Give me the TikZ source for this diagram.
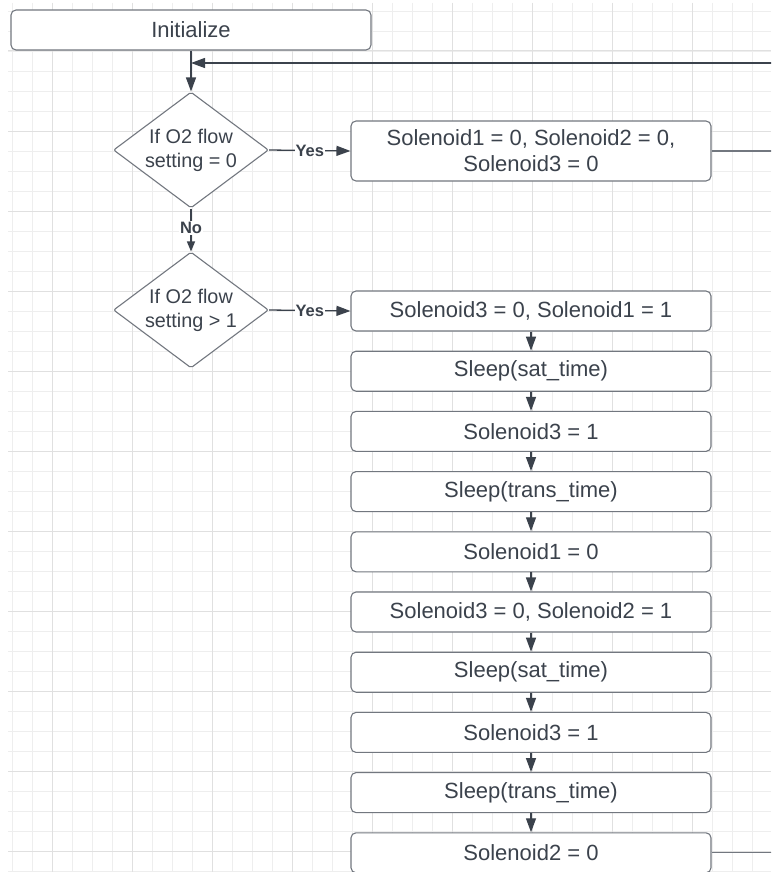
\documentclass[tikz,border=0pt]{standalone}
\usepackage{fontspec}
\setmainfont{Liberation Sans}
\usetikzlibrary{arrows.meta,shapes.geometric}

\definecolor{gridminor}{HTML}{EEEEEE}
\definecolor{gridmajor}{HTML}{E0E0E0}
\definecolor{edge}{HTML}{72777F}
\definecolor{ink}{HTML}{3B424C}

\begin{document}
\begin{tikzpicture}[x=1pt,y=-1pt,
  stepbox/.style={draw=edge, line width=1.1pt, rounded corners=5pt, fill=white,
    minimum width=360pt, minimum height=40pt, inner sep=0pt, text=ink,
    font=\fontsize{22}{26}\selectfont, align=center},
  test/.style={diamond, aspect=1.34, draw=edge, line width=1.1pt, rounded corners=2pt,
    fill=white, minimum width=155pt, minimum height=116pt, inner sep=0pt, text=ink,
    font=\fontsize{19.8}{24}\selectfont, align=center},
  flow/.style={draw=ink, line width=1.3pt, -{Triangle[length=14pt,width=10pt]}},
  shortflow/.style={draw=ink, line width=1.3pt, -{Triangle[length=10pt,width=8pt]}},
  plainline/.style={draw=edge, line width=1.3pt},
  lbl/.style={fill=white, inner sep=1pt, text=ink,
    font=\fontsize{16.5}{18}\selectfont\bfseries},
]
\useasboundingbox (0,0) rectangle (771,872);
\clip (0,0) rectangle (771,872);
\fill[white] (0,0) rectangle (771,872);

% background grid
\foreach \gx in {12,32,...,752} \draw[gridminor, line width=0.9pt] (\gx,3) -- (\gx,872);
\foreach \gy in {11,31,...,871} \draw[gridminor, line width=0.9pt] (8,\gy) -- (771,\gy);
\foreach \gx in {52,132,...,692} \draw[gridmajor, line width=1pt] (\gx,3) -- (\gx,872);
\foreach \gy in {51,131,...,851} \draw[gridmajor, line width=1pt] (8,\gy) -- (771,\gy);

% nodes
\node[stepbox] (init) at (191,30) {Initialize};
\node[test] (d1) at (191,150) {If O2 flow\\setting = 0};
\node[stepbox, minimum height=60pt] (off) at (531,151) {Solenoid1 = 0, Solenoid2 = 0,\\Solenoid3 = 0};
\node[test] (d2) at (191,310) {If O2 flow\\setting > 1};

\node[stepbox] (s1) at (531,311.0) {Solenoid3 = 0, Solenoid1 = 1};
\node[stepbox] (s2) at (531,371.2) {Sleep(sat\_time)};
\node[stepbox] (s3) at (531,431.4) {Solenoid3 = 1};
\node[stepbox] (s4) at (531,491.6) {Sleep(trans\_time)};
\node[stepbox] (s5) at (531,551.8) {Solenoid1 = 0};
\node[stepbox] (s6) at (531,612.0) {Solenoid3 = 0, Solenoid2 = 1};
\node[stepbox] (s7) at (531,672.2) {Sleep(sat\_time)};
\node[stepbox] (s8) at (531,732.4) {Solenoid3 = 1};
\node[stepbox] (s9) at (531,792.6) {Sleep(trans\_time)};
\node[stepbox] (s10) at (531,852.8) {Solenoid2 = 0};

\coordinate (join) at (191,63);
\coordinate (loop) at (800,0);

% connectors
\draw[flow] (init.south) -- (d1.north);
\draw[flow] (d1.east) -- node[lbl] {Yes} (off.west);
\draw[shortflow] (d1.south) -- node[lbl, pos=0.45] {No} (d2.north);
\draw[flow] (d2.east) -- node[lbl] {Yes} (s1.west);
\foreach \a/\b in {s1/s2,s2/s3,s3/s4,s4/s5,s5/s6,s6/s7,s7/s8,s8/s9,s9/s10}
  \draw[flow] (\a.south) -- (\b.north);

% return path to the top of the loop
\draw[plainline] (off.east) -- (off.east -| loop);
\draw[plainline] (s10.east) -- (s10.east -| loop) -- (off.east -| loop);
\draw[flow] (off.east -| loop) -- (join -| loop) -- (join);
\end{tikzpicture}
\end{document}
